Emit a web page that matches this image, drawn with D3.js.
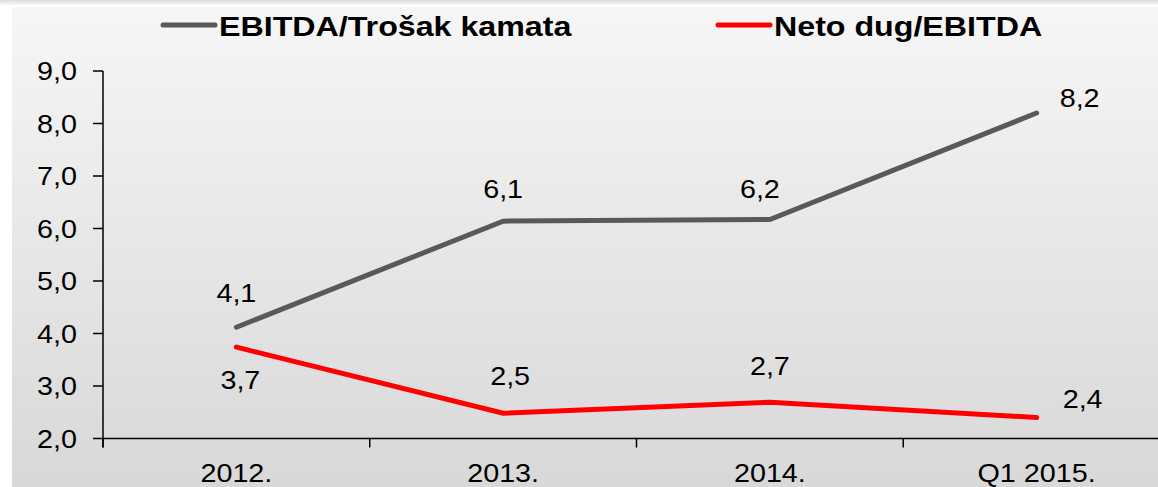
<!DOCTYPE html>
<html>
<head>
<meta charset="utf-8">
<script src="https://cdn.jsdelivr.net/npm/d3@7"></script>
<style>
  body { margin: 0; background: #fff; }
  svg { display: block; font-family: "Liberation Sans", Arial, sans-serif; }
</style>
</head>
<body>
<div class="chart"></div>
<script>
const categories = ["2012.", "2013.", "2014.", "Q1 2015."];
const seriesNames = ["EBITDA/Trošak kamata", "Neto dug/EBITDA"];
const ebitdaInterest = [4.12, 6.14, 6.17, 8.2];
const netDebtEbitda = [3.74, 2.48, 2.69, 2.4];
const yTicks = [2, 3, 4, 5, 6, 7, 8, 9];

const width = 1158,
    height = 487;

// chart is slightly stretched horizontally in the original
const stretch = 1.15;

const svg = d3.select(".chart")
    .append("svg")
    .attr("width", width)
    .attr("height", height);

const defs = svg.append("defs");
const bg = defs.append("linearGradient")
    .attr("id", "bg").attr("x1", 0).attr("y1", 0).attr("x2", 0).attr("y2", 1);
bg.append("stop").attr("offset", "0%").attr("stop-color", "#f6f6f6");
bg.append("stop").attr("offset", "100%").attr("stop-color", "#d8d8d8");
const shade = defs.append("linearGradient")
    .attr("id", "shade").attr("x1", 0).attr("y1", 0).attr("x2", 0).attr("y2", 1);
shade.append("stop").attr("offset", "0%").attr("stop-color", "#dcdcdc");
shade.append("stop").attr("offset", "100%").attr("stop-color", "#ffffff");

svg.append("rect").attr("width", width).attr("height", 6).attr("fill", "url(#shade)");
svg.append("rect").attr("x", 12).attr("y", 7)
    .attr("width", width - 12).attr("height", height - 7)
    .attr("fill", "url(#bg)");

const x = d3.scaleBand()
    .domain(categories)
    .range([103, 1170])
    .paddingInner(0)
    .paddingOuter(0);

const y = d3.scaleLinear()
    .domain([2, 9])
    .range([438.5, 71]);

const fmt = v => d3.format(".1f")(v).replace(".", ",");

function stretchedText(g, tx, ty, txt, anchor, size, weight) {
    return g.append("text")
        .attr("transform", `translate(${tx},${ty}) scale(${stretch},1)`)
        .attr("text-anchor", anchor)
        .style("font-size", size + "px")
        .style("font-weight", weight || "normal")
        .attr("fill", "#000")
        .text(txt);
}

// y axis
const axisG = svg.append("g").attr("stroke", "#000").attr("stroke-width", 1.5);
axisG.append("line")
    .attr("x1", 103).attr("x2", 103)
    .attr("y1", y(9)).attr("y2", y(2) + 9);
axisG.selectAll(".ytick")
    .data(yTicks)
    .join("line")
    .attr("x1", 93).attr("x2", 103)
    .attr("y1", d => y(d)).attr("y2", d => y(d));

// x axis
axisG.append("line")
    .attr("x1", 103).attr("x2", width)
    .attr("y1", y(2)).attr("y2", y(2));
axisG.selectAll(".xtick")
    .data(categories)
    .join("line")
    .attr("x1", d => x(d)).attr("x2", d => x(d))
    .attr("y1", y(2)).attr("y2", y(2) + 9);

const labels = svg.append("g");
yTicks.forEach(t => stretchedText(labels, 77, y(t) + 9, fmt(t), "end", 25));
categories.forEach(c => stretchedText(labels, x(c) + x.bandwidth() / 2, 482, c, "middle", 25));

// lines
const series = [
    { name: seriesNames[0], values: ebitdaInterest, color: "#595959",
      place: [[0, -25], [0, -23], [-10, -22], [43, -6]] },
    { name: seriesNames[1], values: netDebtEbitda, color: "#ff0000",
      place: [[4, 42], [7, -28], [0, -27], [46, -10]] }
];

const line = d3.line()
    .x((d, i) => x(categories[i]) + x.bandwidth() / 2)
    .y(d => y(d));

series.forEach(s => {
    svg.append("path")
        .datum(s.values)
        .attr("d", line)
        .attr("fill", "none")
        .attr("stroke", s.color)
        .attr("stroke-width", 5)
        .attr("stroke-linecap", "round")
        .attr("stroke-linejoin", "miter");

    s.values.forEach((v, i) => {
        const cx = x(categories[i]) + x.bandwidth() / 2;
        stretchedText(labels, cx + s.place[i][0], y(v) + s.place[i][1], fmt(v), "middle", 25);
    });
});

// legend
const legend = svg.append("g");
const legendX = [163, 718];
series.forEach((s, i) => {
    legend.append("line")
        .attr("x1", legendX[i]).attr("x2", legendX[i] + 52)
        .attr("y1", 25).attr("y2", 25)
        .attr("stroke", s.color)
        .attr("stroke-width", 5)
        .attr("stroke-linecap", "round");
    stretchedText(legend, legendX[i] + 56, 36, s.name, "start", 28, "bold");
});
</script>
</body>
</html>
